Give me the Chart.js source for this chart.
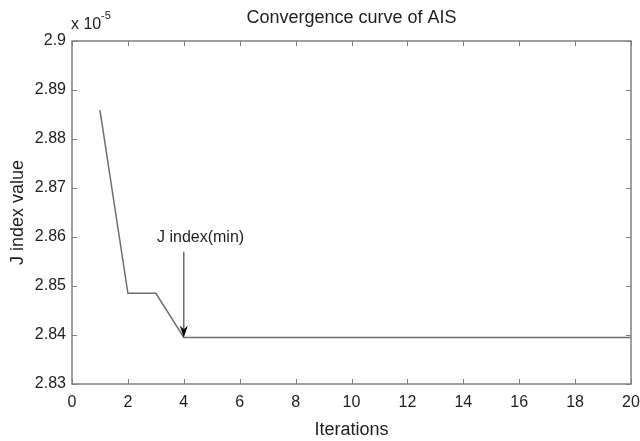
<!DOCTYPE html>
<html>
<head>
<meta charset="utf-8">
<script src="https://cdn.jsdelivr.net/npm/chart.js@4/dist/chart.umd.min.js"></script>
<style>
html,body{margin:0;padding:0;background:#fff;}
#wrap{position:relative;width:640px;height:441px;}
</style>
</head>
<body>
<div id="wrap"><canvas id="c" width="640" height="441"></canvas></div>
<script>
// Data (J index values shown in units of 1e-5, as on the axis)
const iterations = [1,2,3,4,5,6,7,8,9,10,11,12,13,14,15,16,17,18,19,20];
const jIndex = [2.8859,2.8485,2.8485,2.8395,2.8395,2.8395,2.8395,2.8395,2.8395,2.8395,2.8395,2.8395,2.8395,2.8395,2.8395,2.8395,2.8395,2.8395,2.8395,2.8395];
const xTicks = [0,2,4,6,8,10,12,14,16,18,20];
const yTicks = [2.83,2.84,2.85,2.86,2.87,2.88,2.89,2.9];
const titleText = 'Convergence curve of AIS';
const xLabel = 'Iterations';
const yLabel = 'J index value';
const annText = 'J index(min)';
const annPoint = {x: 4, y: 2.8395};
const annStart = {x: 4, y: 2.857};
const annTextPos = {x: 4.6, y: 2.8598};

const FONT = '"Liberation Sans", Arial, sans-serif';
const TXT = '#1e1e1e';
const AX = '#7f7f7f';

const overlay = {
  id: 'overlay',
  afterDraw(chart) {
    const ctx = chart.ctx;
    const a = chart.chartArea;
    const xs = chart.scales.x, ys = chart.scales.y;
    ctx.save();
    // box
    ctx.strokeStyle = AX;
    ctx.lineWidth = 1.5;
    ctx.strokeRect(a.left, a.top, a.right - a.left, a.bottom - a.top);
    // inward ticks
    ctx.lineWidth = 1;
    const tl = 5;
    ctx.beginPath();
    xTicks.forEach(v => {
      const px = Math.round(xs.getPixelForValue(v)) + 0.5;
      ctx.moveTo(px, a.bottom); ctx.lineTo(px, a.bottom - tl);
      ctx.moveTo(px, a.top); ctx.lineTo(px, a.top + tl);
    });
    yTicks.forEach(v => {
      const py = Math.round(ys.getPixelForValue(v)) + 0.5;
      ctx.moveTo(a.left, py); ctx.lineTo(a.left + tl, py);
      ctx.moveTo(a.right, py); ctx.lineTo(a.right - tl, py);
    });
    ctx.stroke();
    // title
    ctx.fillStyle = TXT;
    ctx.textAlign = 'center';
    ctx.textBaseline = 'middle';
    ctx.font = '18px ' + FONT;
    ctx.fillText(titleText, (a.left + a.right) / 2, 18);
    // x label
    ctx.fillText(xLabel, (a.left + a.right) / 2, 430);
    // y label
    ctx.save();
    ctx.translate(18, (a.top + a.bottom) / 2);
    ctx.rotate(-Math.PI / 2);
    ctx.fillText(yLabel, 0, 0);
    ctx.restore();
    // exponent
    ctx.textAlign = 'left';
    ctx.font = '16px ' + FONT;
    ctx.fillText('x 10', 71, 25);
    ctx.font = '11px ' + FONT;
    ctx.fillText('-5', 101, 16);
    // annotation
    const tx = xs.getPixelForValue(annTextPos.x), ty = ys.getPixelForValue(annTextPos.y);
    ctx.font = '16px ' + FONT;
    ctx.textAlign = 'center';
    ctx.fillText(annText, tx, ty);
    const x0 = xs.getPixelForValue(annStart.x), y0 = ys.getPixelForValue(annStart.y);
    const x1 = xs.getPixelForValue(annPoint.x), y1 = ys.getPixelForValue(annPoint.y);
    ctx.strokeStyle = '#555';
    ctx.lineWidth = 1.3;
    ctx.beginPath(); ctx.moveTo(x0, y0); ctx.lineTo(x1, y1 - 6); ctx.stroke();
    ctx.fillStyle = '#000';
    ctx.beginPath();
    ctx.moveTo(x1, y1);
    ctx.lineTo(x1 - 4, y1 - 12);
    ctx.lineTo(x1, y1 - 8);
    ctx.lineTo(x1 + 4, y1 - 12);
    ctx.closePath();
    ctx.fill();
    ctx.restore();
  }
};

new Chart(document.getElementById('c'), {
  type: 'line',
  data: {
    datasets: [{
      data: iterations.map((x, i) => ({x: x, y: jIndex[i]})),
      borderColor: '#6e6e6e',
      borderWidth: 1.5,
      pointRadius: 0,
      tension: 0,
      fill: false
    }]
  },
  options: {
    responsive: false,
    animation: false,
    devicePixelRatio: 1,
    layout: {padding: {top: 41, right: 9, left: 0, bottom: 0}},
    plugins: {legend: {display: false}, title: {display: false}, tooltip: {enabled: false}},
    scales: {
      x: {
        type: 'linear', min: 0, max: 20,
        afterBuildTicks: s => { s.ticks = xTicks.map(v => ({value: v})); },
        afterFit: s => { s.height = 441 - 384; s.paddingLeft = 0; s.paddingRight = 0; },
        grid: {display: false, drawTicks: false},
        border: {display: false},
        ticks: {font: {size: 16, family: FONT}, color: TXT, padding: 9, maxRotation: 0}
      },
      y: {
        type: 'linear', min: 2.83, max: 2.9,
        afterBuildTicks: s => { s.ticks = yTicks.map(v => ({value: v})); },
        afterFit: s => { s.width = 72; s.paddingTop = 0; s.paddingBottom = 0; },
        grid: {display: false, drawTicks: false},
        border: {display: false},
        ticks: {font: {size: 16, family: FONT}, color: TXT, padding: 6,
          callback: v => String(parseFloat(Number(v).toFixed(2)))}
      }
    }
  },
  plugins: [overlay]
});
</script>
</body>
</html>
